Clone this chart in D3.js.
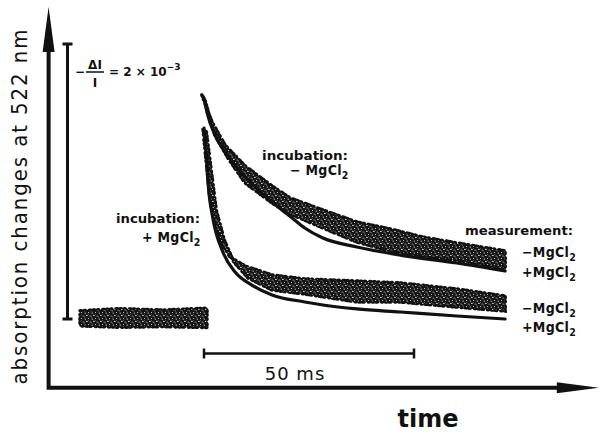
<!DOCTYPE html>
<html>
<head>
<meta charset="utf-8">
<script src="https://cdn.jsdelivr.net/npm/d3@7"></script>
<style>
  body { margin: 0; background: #fff; }
  svg text { font-family: "DejaVu Sans", sans-serif; font-weight: bold; fill: #111; }
</style>
</head>
<body>
<div id="chart"></div>
<script>
// time in ms after the flash, signal in units of 10^-3 (-dI/I)
let fitMinus = [[0, 1.607], [0.7, 1.505], [2.6, 1.338], [5.0, 1.215], [7.9, 1.098], [11.7, 0.975],
    [16.2, 0.851], [21.0, 0.735], [24.0, 0.662], [28.3, 0.589], [36.4, 0.524], [46.7, 0.465],
    [60.2, 0.407], [71.7, 0.349]];
let fitPlus = [[0, 1.389], [0.5, 1.215], [1.0, 0.975], [2.1, 0.735], [4.5, 0.487], [7.4, 0.342],
    [11.4, 0.247], [16.2, 0.175], [24.0, 0.124], [28.3, 0.102], [36.4, 0.073], [46.7, 0.051],
    [60.2, 0.022], [71.7, 0.0]];

// edges of the noisy measured traces
let dataMinusTop = [[-0.5, 1.629], [1.9, 1.433], [5.0, 1.265], [9.8, 1.113], [16.2, 0.967], [20.5, 0.88],
    [28.3, 0.793], [36.4, 0.705], [44.3, 0.655], [52.1, 0.596], [60.2, 0.553], [71.7, 0.495]];
let dataMinusBottom = [[0.2, 1.593], [2.6, 1.338], [5.7, 1.171], [9.8, 0.989], [16.2, 0.844], [20.5, 0.764],
    [28.3, 0.662], [36.4, 0.56], [44.3, 0.495], [52.1, 0.458], [60.2, 0.429], [71.7, 0.364]];
let dataPlusTop = [[-0.2, 1.375], [0.5, 1.156], [1.2, 0.938], [2.1, 0.756], [3.8, 0.575], [6.2, 0.451],
    [9.8, 0.385], [16.2, 0.32], [24.0, 0.291], [36.4, 0.276], [46.7, 0.262], [60.2, 0.218], [71.7, 0.167]];
let dataPlusBottom = [[0.5, 1.375], [1.7, 1.084], [2.9, 0.793], [4.8, 0.575], [7.1, 0.415], [10.5, 0.298],
    [16.2, 0.211], [24.0, 0.182], [36.4, 0.124], [46.7, 0.124], [60.2, 0.087], [71.7, 0.058]];
let baseTop = [[-29.5, 0.06], [-20, 0.075], [-10, 0.065], [0.7, 0.078]];
let baseBottom = [[-29.5, -0.05], [-20, -0.06], [-10, -0.055], [0.7, -0.062]];

let axisT = [-37, 94];
let axisV = [-0.5, 2.27];

let width = 600;
let height = 432;

let xScale = d3.scaleLinear().domain([0, 50]).range([204, 414]);
let yScale = d3.scaleLinear().domain([0, 2]).range([319, 44]);

let svg = d3.select("#chart")
    .append("svg")
    .attr("width", width)
    .attr("height", height);

// stipple pattern for the noisy traces (dark with white specks)
let pat = svg.append("defs").append("pattern")
    .attr("id", "stipple")
    .attr("patternUnits", "userSpaceOnUse")
    .attr("width", 7)
    .attr("height", 6);
pat.append("rect").attr("width", 7).attr("height", 6).attr("fill", "#151515");
[[1.2, 1.1, 0.6], [4.6, 0.5, 0.5], [2.9, 3.4, 0.7], [6.1, 4.1, 0.5], [0.6, 4.9, 0.45], [4.4, 2.5, 0.35]]
    .forEach(function (c) {
        pat.append("circle").attr("cx", c[0]).attr("cy", c[1]).attr("r", c[2]).attr("fill", "#fff");
    });

let lineGen = d3.line()
    .x(function (d) { return xScale(d[0]); })
    .y(function (d) { return yScale(d[1]); });

let drawBand = function (top, bottom) {
    let pts = top.concat(bottom.slice().reverse());
    let d = lineGen(pts) + "Z";
    svg.append("path")
        .attr("d", d)
        .attr("fill", "none")
        .attr("stroke", "#111")
        .attr("stroke-width", 3.6)
        .attr("stroke-dasharray", "1.3 3.1 0.8 4.2 1.5 2.4")
        .attr("stroke-linecap", "round");
    svg.append("path")
        .attr("d", d)
        .attr("fill", "url(#stipple)")
        .attr("stroke", "#111")
        .attr("stroke-width", 1.2)
        .attr("stroke-dasharray", "2 1.5 1 2.5")
        .attr("stroke-linecap", "round");
};
drawBand(baseTop, baseBottom);
drawBand(dataMinusTop, dataMinusBottom);
drawBand(dataPlusTop, dataPlusBottom);

let fitGen = d3.line()
    .x(function (d) { return xScale(d[0]); })
    .y(function (d) { return yScale(d[1]); })
    .curve(d3.curveMonotoneX);

[fitMinus, fitPlus].forEach(function (f) {
    svg.append("path")
        .datum(f)
        .attr("d", fitGen)
        .attr("fill", "none")
        .attr("stroke", "#111")
        .attr("stroke-width", 3.2)
        .attr("stroke-linecap", "round");
});

// axes with arrows
let x0 = xScale(axisT[0]);
let y0 = yScale(axisV[0]);
let xEnd = xScale(axisT[1]);
let yEnd = yScale(axisV[1]);
svg.append("path")
    .attr("d", "M" + x0 + "," + (yEnd + 30) + "V" + y0 + "H" + (xEnd - 30))
    .attr("fill", "none")
    .attr("stroke", "#111")
    .attr("stroke-width", 4);
svg.append("path")
    .attr("d", "M" + x0 + "," + yEnd + "L" + (x0 + 6) + "," + (yEnd + 45) + "L" + (x0 - 6) + "," + (yEnd + 45) + "Z")
    .attr("fill", "#111");
svg.append("path")
    .attr("d", "M" + xEnd + "," + y0 + "L" + (xEnd - 42) + "," + (y0 - 5.5) + "L" + (xEnd - 42) + "," + (y0 + 5.5) + "Z")
    .attr("fill", "#111");

// vertical scale bar (2 x 10^-3)
let sbX = xScale(-32.5);
svg.append("path")
    .attr("d", "M" + sbX + "," + yScale(2) + "V" + yScale(0)
        + "M" + (sbX - 5) + "," + yScale(2) + "H" + (sbX + 5)
        + "M" + (sbX - 5) + "," + yScale(0) + "H" + (sbX + 5))
    .attr("stroke", "#111")
    .attr("stroke-width", 3)
    .attr("fill", "none");

// horizontal scale bar (50 ms)
let hbY = yScale(-0.25);
svg.append("path")
    .attr("d", "M" + xScale(0) + "," + hbY + "H" + xScale(50)
        + "M" + xScale(0) + "," + (hbY - 5) + "V" + (hbY + 5)
        + "M" + xScale(50) + "," + (hbY - 5) + "V" + (hbY + 5))
    .attr("stroke", "#111")
    .attr("stroke-width", 2.5)
    .attr("fill", "none");
svg.append("text")
    .attr("x", 295).attr("y", 380)
    .attr("text-anchor", "middle")
    .style("font-size", "18px")
    .style("font-weight", "normal")
    .style("letter-spacing", "1px")
    .text("50 ms");

// axis titles
svg.append("text")
    .attr("transform", "translate(27,207) rotate(-90)")
    .attr("text-anchor", "middle")
    .attr("textLength", 355)
    .attr("lengthAdjust", "spacing")
    .style("font-family", "'DejaVu Sans Condensed', 'DejaVu Sans', sans-serif")
    .style("font-size", "22px")
    .style("font-weight", "normal")
    .text("absorption changes at 522 nm");
svg.append("text")
    .attr("x", 428).attr("y", 427)
    .attr("text-anchor", "middle")
    .style("font-size", "24px")
    .text("time");

// -dI/I = 2 x 10^-3
svg.append("text").attr("x", 75).attr("y", 76).style("font-size", "12px").text("−");
svg.append("text").attr("x", 95).attr("y", 69).attr("text-anchor", "middle").style("font-size", "12px").text("ΔI");
svg.append("line").attr("x1", 86).attr("x2", 104).attr("y1", 72).attr("y2", 72)
    .attr("stroke", "#111").attr("stroke-width", 1.5);
svg.append("text").attr("x", 95).attr("y", 87).attr("text-anchor", "middle").style("font-size", "12px").text("I");
let eq = svg.append("text").attr("x", 109).attr("y", 76).style("font-size", "12px").text("= 2 × 10");
eq.append("tspan").attr("dy", -6).style("font-size", "9px").text("−3");

// labels
let mgLabel = function (x, y, prefix, size) {
    let t = svg.append("text")
        .attr("x", x).attr("y", y)
        .style("font-family", "'DejaVu Sans Condensed', 'DejaVu Sans', sans-serif")
        .style("font-size", size + "px")
        .style("letter-spacing", "0.3px")
        .text(prefix + "MgCl");
    t.append("tspan").attr("dy", size * 0.3).style("font-size", (size * 0.75) + "px").text("2");
};
let plain = function (x, y, s, size, len) {
    svg.append("text")
        .attr("x", x).attr("y", y)
        .attr("textLength", len)
        .attr("lengthAdjust", "spacingAndGlyphs")
        .style("font-size", size + "px")
        .text(s);
};

plain(262, 160, "incubation:", 13, 86);
mgLabel(290, 175, "− ", 14);
plain(116, 223, "incubation:", 13, 84);
mgLabel(142, 242, "+ ", 14);
plain(465, 235, "measurement:", 13, 108);
mgLabel(522, 257, "−", 14);
mgLabel(522, 277, "+", 14);
mgLabel(522, 313, "−", 14);
mgLabel(522, 332, "+", 14);
</script>
</body>
</html>
